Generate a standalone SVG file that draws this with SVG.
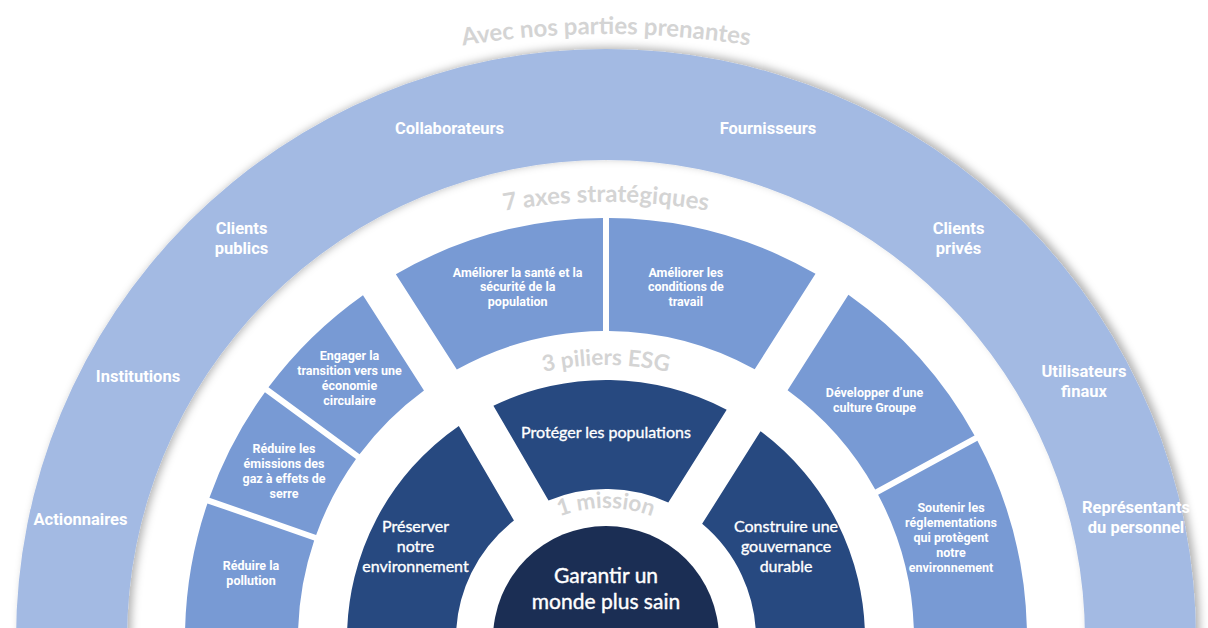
<svg xmlns="http://www.w3.org/2000/svg" width="1208" height="628" viewBox="0 0 1208 628">
<defs>
<style>
.ring{fill:#a3bae3}
.axe{fill:#789ad4}
.pil{fill:#274980}
.core{fill:#1b2e54}
.lo{font-family:Roboto,"Liberation Sans",sans-serif;font-weight:700;font-size:16.5px;fill:#ffffff;text-anchor:middle}
.la{font-family:Roboto,"Liberation Sans",sans-serif;font-weight:700;font-size:12.5px;fill:#ffffff;text-anchor:middle}
.lp{font-family:Lato,"Liberation Sans",sans-serif;font-size:16px;fill:#ffffff;stroke:#ffffff;stroke-width:0.35px;text-anchor:middle}
.lc{font-family:Lato,"Liberation Sans",sans-serif;font-size:21px;fill:#ffffff;stroke:#ffffff;stroke-width:0.4px;text-anchor:middle}
.tt{font-family:Lato,"Liberation Sans",sans-serif;font-weight:700;font-size:24px;fill:#d4d4d4;text-anchor:middle}
.ts{font-size:22.5px}
</style>
<filter id="sh" x="-5%" y="-10%" width="110%" height="120%">
<feDropShadow dx="4" dy="-2" stdDeviation="4" flood-color="#000000" flood-opacity="0.3"/>
</filter>
<path id="pTop" d="M306,85.5 A900,900 0 0 1 906,85.5"/>
<path id="pAxes" d="M356,256.6 A600,600 0 0 1 856,256.6"/>
<path id="pPil" d="M368.7,502 A274,274 0 0 1 843.3,502"/>
<path id="pMis" d="M482.9,594.2 A131,131 0 0 1 729.1,594.2"/>
</defs>
<rect width="1208" height="628" fill="#ffffff"/>

<g id="stakeholders">
<path class="ring" filter="url(#sh)" d="M16,639 A590,590 0 0 1 1196,639 L1085,639 A479,479 0 0 0 127,639 Z"/>
<text class="tt"><textPath href="#pTop" startOffset="50%">Avec nos parties prenantes</textPath></text>
<text class="lo" x="449.5" y="134">Collaborateurs</text>
<text class="lo" x="768" y="134">Fournisseurs</text>
<text class="lo" x="241.5" y="234">Clients<tspan x="241.5" y="253.5">publics</tspan></text>
<text class="lo" x="958.5" y="234">Clients<tspan x="958.5" y="253.5">privés</tspan></text>
<text class="lo" x="138" y="381.7">Institutions</text>
<text class="lo" x="1084" y="377.3">Utilisateurs<tspan x="1084" y="396.7">finaux</tspan></text>
<text class="lo" x="80.5" y="525">Actionnaires</text>
<text class="lo" x="1136" y="513.3">Représentants<tspan x="1136" y="533.3">du personnel</tspan></text>
</g>

<g id="axes-title">
<text class="tt"><textPath href="#pAxes" startOffset="50%">7 axes stratégiques</textPath></text>
</g>

<g id="axe-pollution">
<path class="axe" d="M185,639 A421,421 0 0 1 207.44,503.38 L314.16,540.54 A308,308 0 0 0 298,639 Z"/>
<text class="la" x="251" y="570">Réduire la<tspan x="251" y="585">pollution</tspan></text>
</g>
<g id="axe-emissions">
<path class="axe" d="M209.41,497.74 A421,421 0 0 1 264.94,392.18 L356,459.08 A308,308 0 0 0 316.13,534.88 Z"/>
<text class="la" x="284" y="452.7">Réduire les<tspan x="284" y="467.7">émissions des</tspan><tspan x="284" y="482.7">gaz à effets de</tspan><tspan x="284" y="497.7">serre</tspan></text>
</g>
<g id="axe-circulaire">
<path class="axe" d="M268.48,387.35 A421,421 0 0 1 362.99,295.21 L423.96,390.55 A308,308 0 0 0 359.56,454.25 Z"/>
<text class="la" x="349.5" y="360">Engager la<tspan x="349.5" y="375">transition vers une</tspan><tspan x="349.5" y="390">économie</tspan><tspan x="349.5" y="405">circulaire</tspan></text>
</g>
<g id="axe-sante">
<path class="axe" d="M395.85,274.2 A421,421 0 0 1 603,218.01 L603,331.01 A308,308 0 0 0 456.82,369.54 Z"/>
<text class="la" x="517.7" y="276.5">Améliorer la santé et la<tspan x="517.7" y="291">sécurité de la</tspan><tspan x="517.7" y="305.5">population</tspan></text>
</g>
<g id="axe-travail">
<path class="axe" d="M609,218.01 A421,421 0 0 1 815.51,273.83 L754.71,369.28 A308,308 0 0 0 609,331.01 Z"/>
<text class="la" x="685.8" y="276.5">Améliorer les<tspan x="685.8" y="291">conditions de</tspan><tspan x="685.8" y="305.5">travail</tspan></text>
</g>
<g id="axe-culture">
<path class="axe" d="M848.41,294.79 A421,421 0 0 1 974.54,435.49 L875.23,489.41 A308,308 0 0 0 787.6,390.23 Z"/>
<text class="la" x="874.5" y="397.3">Développer d’une<tspan x="874.5" y="412.3">culture Groupe</tspan></text>
</g>
<g id="axe-reglementations">
<path class="axe" d="M977.41,440.76 A421,421 0 0 1 1027,639 L914,639 A308,308 0 0 0 878.1,494.68 Z"/>
<text class="la" x="951" y="511.7">Soutenir les<tspan x="951" y="526.7">réglementations</tspan><tspan x="951" y="541.7">qui protègent</tspan><tspan x="951" y="556.7">notre</tspan><tspan x="951" y="571.7">environnement</tspan></text>
</g>

<g id="piliers-title">
<text class="tt ts"><textPath href="#pPil" startOffset="50%">3 piliers ESG</textPath></text>
</g>

<g id="pilier-environnement">
<path class="pil" d="M347,639 A259,259 0 0 1 458.82,425.88 L513.94,520.58 A150,150 0 0 0 456,639 Z"/>
<text class="lp" x="415.5" y="531.5">Préserver<tspan x="415.5" y="551.5">notre</tspan><tspan x="415.5" y="571.5">environnement</tspan></text>
</g>
<g id="pilier-social">
<path class="pil" d="M493.39,405.76 A259,259 0 0 1 726.68,409.83 L668.3,502.54 A150,150 0 0 0 548.51,500.46 Z"/>
<text class="lp" x="606" y="438">Protéger les populations</text>
</g>
<g id="pilier-gouvernance">
<path class="pil" d="M760.53,431.15 A259,259 0 0 1 865,639 L756,639 A150,150 0 0 0 702.14,523.86 Z"/>
<text class="lp" x="786" y="531.5">Construire une<tspan x="786" y="551.5">gouvernance</tspan><tspan x="786" y="571.5">durable</tspan></text>
</g>

<g id="mission-title">
<text class="tt ts"><textPath href="#pMis" startOffset="50%">1 mission</textPath></text>
</g>

<g id="mission">
<circle class="core" cx="606" cy="639" r="113"/>
<text class="lc" x="606" y="582.5">Garantir un<tspan x="606" y="609">monde plus sain</tspan></text>
</g>

<g id="connectors"/>
</svg>
